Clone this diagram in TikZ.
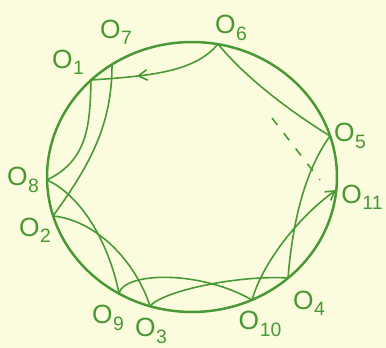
\documentclass[tikz,border=0pt]{standalone}
\usepackage{fontspec}
\setmainfont{Liberation Sans}
\usetikzlibrary{arrows.meta,decorations.markings}
\definecolor{bg}{RGB}{251,251,222}
\definecolor{pen}{RGB}{72,152,52}
\newcommand\olab[1]{O\kern0.3pt\raisebox{-0.45ex}{\fontsize{11}{11}\selectfont #1}}
\begin{document}
\begin{tikzpicture}[x=0.02cm,y=-0.02cm,
  edge/.style={draw=pen,line width=0.9pt},
  rim/.style={draw=pen,line width=1.4pt},
  lab/.style={text=pen,font=\fontsize{15}{15}\selectfont,inner sep=0pt},
  midarrow/.style={postaction={decorate},decoration={markings,mark=at position 0.66 with {\arrow{Straight Barb[length=5pt,width=6pt]}}}},
  endarrow/.style={-{Straight Barb[length=5pt,width=6pt]}}]
\fill[bg] (0,0) rectangle (386,348);
\useasboundingbox (0,0) rectangle (386,348);
% ring
\coordinate (c) at (192,177);
\draw[rim] (c) ellipse [x radius=2.9cm, y radius=2.7cm];
% points on the ring
\coordinate (O6) at (218,44);
\coordinate (O5) at (330,136);
\coordinate (O11) at (336,190);
\coordinate (O4) at (288,278);
\coordinate (O10) at (252,300);
\coordinate (O3) at (150,306);
\coordinate (O9) at (119,293);
\coordinate (O2) at (53,216);
\coordinate (O8) at (47,180);
\coordinate (O1) at (91,80);
\coordinate (O7) at (112,65);
\coordinate (d1) at (272,118);
\coordinate (d2) at (320,180);
% chords
\draw[edge,midarrow] (O6) .. controls (195,72) and (150,76) .. (O1);
\draw[edge] (O6) .. controls (245,77) and (288,110) .. (O5);
\draw[edge] (O1) .. controls (90,125) and (88,160) .. (O8);
\draw[edge] (O7) .. controls (112,125) and (90,165) .. (O2);
\draw[edge] (O8) .. controls (80,195) and (108,240) .. (O9);
\draw[edge] (O2) .. controls (95,220) and (135,260) .. (O3);
\draw[edge] (O9) .. controls (125,272) and (200,270) .. (O10);
\draw[edge] (O3) .. controls (165,290) and (240,275) .. (O4);
\draw[edge,endarrow] (O10) .. controls (262,265) and (295,220) .. (O11);
\draw[edge] (O4) .. controls (292,230) and (302,175) .. (O5);
\draw[edge,dashed,dash pattern=on 5pt off 6pt] (d1) -- (d2);
% labels
\node[lab] (L6) at (231,28) {\olab{6}};
\node[lab] (L7) at (116,32) {\olab{7}};
\node[lab] (L1) at (68,62) {\olab{1}};
\node[lab] (L8) at (23,180) {\olab{8}};
\node[lab] (L2) at (35,230) {\olab{2}};
\node[lab] (L9) at (108,318) {\olab{9}};
\node[lab] (L3) at (151,331) {\olab{3}};
\node[lab] (L10) at (260,324) {\olab{10}};
\node[lab] (L4) at (309,303) {\olab{4}};
\node[lab] (L11) at (362,197) {\olab{11}};
\node[lab] (L5) at (350,136) {\olab{5}};
\end{tikzpicture}
\end{document}
